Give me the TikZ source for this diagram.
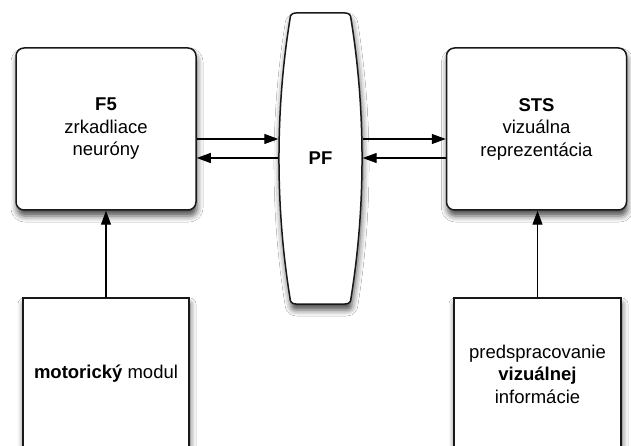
\documentclass[tikz,border=0pt]{standalone}
\usepackage{fontspec}
\setmainfont{Liberation Sans}
\usetikzlibrary{arrows.meta,shadows.blur}
\begin{document}
\begin{tikzpicture}[x=1pt,y=-1pt,
  boxshadow/.style={blur shadow={shadow xshift=1pt,shadow yshift=-6pt,shadow blur radius=6pt,shadow opacity=70}},
  txt/.style={font=\fontsize{18.5}{22.5}\selectfont,align=center,text=black},
  mainbox/.style={txt,draw=black!90,line width=1.5pt,fill=white,rounded corners=8pt,minimum width=180pt,minimum height=162pt,inner sep=0pt,boxshadow},
  inbox/.style={txt,draw=black!90,line width=1.5pt,fill=white,minimum width=166pt,minimum height=152pt,inner sep=0pt,boxshadow},
  pfshape/.style={draw=black!90,line width=1.5pt,fill=white,boxshadow},
  arr/.style={line width=1.2pt,draw=black,-{Triangle[length=14pt,width=10pt]}}
]
\clip (0,0) rectangle (631,446);
\fill[white] (0,0) rectangle (631,446);
\node[mainbox] (F5) at (106,129) {\textbf{F5}\\zrkadliace\\neuróny};
\node[mainbox] (STS) at (536.5,129) {\textbf{STS}\\vizuálna\\reprezentácia};
\node[inbox] (MM) at (106,374) {\textbf{motorický} modul};
\node[inbox,minimum width=167pt] (PV) at (537.5,374) {predspracovanie\\\textbf{vizuálnej}\\informácie};
\draw[pfshape] (296,13) -- (345,13) .. controls (349,13) and (351,15) .. (351,19)
  .. controls (365.7,110) and (365.7,207) .. (351,298)
  .. controls (351,302) and (349,304) .. (345,304) -- (296,304)
  .. controls (292,304) and (290,302) .. (290,298)
  .. controls (275.3,207) and (275.3,110) .. (290,19)
  .. controls (290,15) and (292,13) .. (296,13) -- cycle;
\node[txt,minimum width=84pt,minimum height=291pt,inner sep=0pt] (PF) at (320.5,158.5) {\textbf{PF}};
\draw[arr] ([yshift=-10pt]F5.east) -- ([yshift=-10pt]F5.east -| PF.west);
\draw[arr] ([yshift=-29pt]F5.east -| PF.west) -- ([yshift=-29pt]F5.east);
\draw[arr] ([yshift=-10pt]STS.west -| PF.east) -- ([yshift=-10pt]STS.west);
\draw[arr] ([yshift=-29pt]STS.west) -- ([yshift=-29pt]STS.west -| PF.east);
\draw[arr] (MM.north) -- (F5.south);
\draw[arr] (PV.north) -- (PV.north |- STS.south);
\end{tikzpicture}
\end{document}
